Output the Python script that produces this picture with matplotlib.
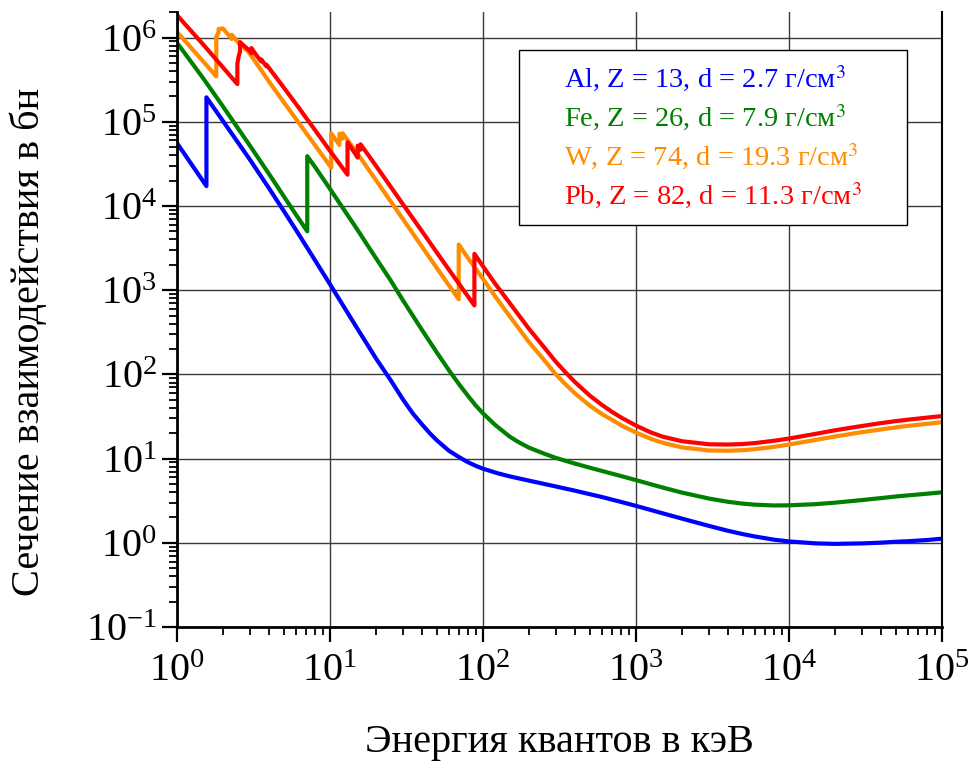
import numpy as np
import matplotlib.pyplot as plt
from matplotlib.patches import Rectangle

# Сечения взаимодействия (барн/атом) в зависимости от энергии (кэВ)
# Значения; на краях поглощения энергия повторяется

# Al, Z = 13
e_al = [1.0, 1.5596, 1.5596, 2, 3, 4, 5, 6, 8, 10, 15, 20, 25, 30, 35, 40, 45,
        50, 55, 60, 70, 80, 90, 100, 125, 150, 200, 300, 400, 500, 600, 800,
        1000, 1500, 2000, 3000, 4000, 5000, 6000, 8000, 10000, 15000, 20000,
        30000, 40000, 50000, 60000, 80000, 100000]
s_al = [5.6e4, 1.72e4, 1.95e5, 1.02e5, 3.55e4, 1.62e4, 8.7e3, 5.2e3, 2.26e3,
        1.18e3, 358, 155, 85, 50.5, 34, 25.5, 20, 16.5, 14.2, 12.4, 10.4, 9.05,
        8.2, 7.6, 6.7, 6.15, 5.48, 4.67, 4.16, 3.78, 3.5, 3.06, 2.75, 2.24,
        1.94, 1.59, 1.39, 1.27, 1.19, 1.09, 1.04, 0.985, 0.972, 0.985, 1.005,
        1.03, 1.045, 1.08, 1.12]

# Fe, Z = 26
e_fe = [1.0, 1.5, 2, 3, 4, 5, 6, 7.112, 7.112, 8, 10, 15, 20, 25, 30, 40, 50,
        60, 70, 80, 90, 100, 120, 150, 170, 200, 250, 300, 400, 500, 600, 800,
        1000, 1500, 2000, 3000, 4000, 5000, 6000, 8000, 10000, 15000, 20000,
        30000, 40000, 50000, 60000, 80000, 100000]
s_fe = [8.7e5, 3.2e5, 1.52e5, 5.2e4, 2.4e4, 1.3e4, 7.9e3, 5.0e3, 3.9e4, 2.9e4,
        1.6e4, 5.35e3, 2.4e3, 1.3e3, 760, 337, 182, 112, 76, 55.5, 42.5, 34.6,
        25.2, 18.2, 15.8, 13.5, 11.5, 10.2, 8.72, 7.8, 7.14, 6.21, 5.56, 4.53,
        3.95, 3.36, 3.07, 2.92, 2.84, 2.78, 2.79, 2.88, 3.0, 3.22, 3.4, 3.55,
        3.66, 3.83, 3.98]

# W, Z = 74
e_w = [1.0, 1.5, 1.809, 1.809, 1.872, 1.872, 2.0, 2.281, 2.281, 2.575, 2.575,
       2.82, 2.82, 3, 4, 5, 6, 8, 10.207, 10.207, 10.85, 11.544, 11.544, 11.77,
       12.1, 12.1, 15, 20, 30, 40, 50, 60, 69.525, 69.525, 80, 100, 120, 150,
       200, 250, 300, 350, 400, 500, 600, 700, 800, 1000, 1250, 1500, 2000,
       3000, 4000, 5000, 6000, 8000, 10000, 15000, 20000, 30000, 40000, 50000,
       60000, 80000, 100000]
s_w = [1.17e6, 5.1e5, 3.45e5, 1.02e6, 1.15e6, 1.26e6, 1.28e6, 9.6e5, 1.08e6,
       8.3e5, 8.9e5, 7.2e5, 7.5e5, 6.4e5, 3.0e5, 1.7e5, 1.08e5, 5.25e4,
       2.85e4, 7.3e4, 6.2e4, 5.3e4, 7.2e4, 6.8e4, 6.3e4, 7.3e4, 4.3e4, 2.03e4,
       7.0e3, 3.28e3, 1.83e3, 1.14e3, 780, 3.48e3, 2.4e3, 1.37e3, 850, 488,
       242, 150, 100, 75, 59.5, 42.5, 33.8, 28.8, 24.9, 20.4, 17.2, 15.4, 13.6,
       12.5, 12.4, 12.6, 12.95, 13.8, 14.7, 16.7, 18.3, 20.6, 22.2, 23.5, 24.5,
       25.9, 27.0]

# Pb, Z = 82
e_pb = [1.0, 1.5, 2.0, 2.484, 2.484, 2.534, 2.586, 2.586, 3.0, 3.066, 3.066,
        3.301, 3.554, 3.554, 3.7, 3.851, 3.851, 4, 5, 6, 8, 10, 13.035, 13.035,
        15.0, 15.2, 15.2, 15.53, 15.861, 15.861, 20, 30, 40, 50, 60, 80, 88.0,
        88.0, 100, 120, 150, 200, 250, 300, 350, 400, 500, 600, 700, 800,
        1000, 1250, 1500, 2000, 3000, 4000, 5000, 6000, 8000, 10000, 15000,
        20000, 30000, 40000, 50000, 60000, 80000, 100000]
s_pb = [1.85e6, 8.1e5, 4.42e5, 2.8e5, 4.9e5, 6.0e5, 6.8e5, 8.8e5, 6.9e5,
        6.5e5, 7.5e5, 6.2e5, 5.2e5, 5.5e5, 5.0e5, 4.55e5, 4.75e5, 4.35e5,
        2.54e5, 1.63e5, 7.95e4, 4.53e4, 2.35e4, 5.7e4, 3.9e4, 3.75e4, 5.2e4,
        4.9e4, 4.65e4, 5.4e4, 3.0e4, 1.05e4, 5.0e3, 2.8e3, 1.75e3, 840, 660,
        2.7e3, 1.93e3, 1.2e3, 700, 348, 212, 141, 104, 81, 56, 43.4, 35.8, 30.8,
        24.7, 20.5, 18.2, 16.1, 14.8, 14.7, 14.9, 15.3, 16.3, 17.3, 19.7, 21.7,
        24.4, 26.4, 27.9, 29.0, 30.7, 32.0]

labels = ['Al, Z = 13, d = 2.7 г/см$^3$',
          'Fe, Z = 26, d = 7.9 г/см$^3$',
          'W, Z = 74, d = 19.3 г/см$^3$',
          'Pb, Z = 82, d = 11.3 г/см$^3$']
colors = ['#0000ff', '#008000', '#ff8c00', '#ff0000']

plt.rcParams['font.family'] = ['Liberation Serif', 'DejaVu Serif']
plt.rcParams['mathtext.fontset'] = 'stix'
plt.rcParams['axes.unicode_minus'] = False

fig = plt.figure(figsize=(9.72, 7.61), dpi=100)
ax = fig.add_axes([0.182, 0.176, 0.787, 0.808])

series = [(e_al, s_al), (e_fe, s_fe), (e_w, s_w), (e_pb, s_pb)]
for (e, s), c, lab in zip(series, colors, labels):
    ax.plot(e, s, color=c, lw=3, label=lab)

ax.set_xscale('log')
ax.set_yscale('log')
ax.set_xlim(1, 1e5)
ax.set_ylim(0.1, 2e6)

ax.grid(True, which='major', color='#3a3a3a', lw=1)
ax.set_axisbelow(True)
ax.spines['top'].set_visible(False)
ax.spines['right'].set_linewidth(1.5)
for side in ['left', 'bottom']:
    ax.spines[side].set_linewidth(2)
ax.tick_params(which='major', length=11, width=1.6, labelsize=29, direction='out')
ax.tick_params(which='minor', length=6, width=1.3, direction='out')
ax.tick_params(axis='x', pad=8)

ax.set_xlabel('Энергия квантов в кэВ', fontsize=29, labelpad=24)
ax.set_ylabel('Сечение взаимодействия в бн', fontsize=29)
ax.yaxis.set_label_coords(-0.168, 0.463)

# рамка легенды
box = Rectangle((0.447, 0.654), 0.507, 0.284, transform=ax.transAxes,
                facecolor='white', edgecolor='black', lw=1, zorder=4)
ax.add_patch(box)
leg = ax.legend(loc='center', bbox_to_anchor=(0.7005, 0.796), fontsize=20.5,
                handlelength=0, handletextpad=0, frameon=False,
                labelspacing=0.31)
leg.set_zorder(5)
for h, t, c in zip(leg.legend_handles, leg.get_texts(), colors):
    h.set_visible(False)
    t.set_color(c)

plt.savefig('out.png', dpi=100)
